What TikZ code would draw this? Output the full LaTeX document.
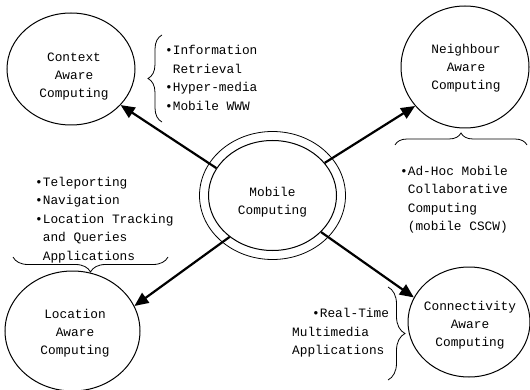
\documentclass[tikz,border=0pt]{standalone}
\usepackage{fontspec}
\setmainfont{Liberation Mono}
\usetikzlibrary{shapes.geometric,arrows.meta,decorations.pathreplacing}
\begin{document}
\begin{tikzpicture}[x=1pt,y=-1pt,
  circ/.style={draw,ellipse,line width=1pt,inner sep=0pt},
  lbl/.style={align=center,font=\fontsize{12.8}{18}\selectfont,inner sep=0pt},
  lst/.style={align=left,font=\fontsize{12.8}{18.5}\selectfont,inner sep=0pt,anchor=west},
  conn/.style={line width=2.2pt,-{Triangle[length=14pt,width=12pt]}},
  br/.style={decorate,decoration={brace,amplitude=#1},line width=0.8pt},
]
\useasboundingbox (0,0) rectangle (530,390);
% circles
\node[circ,minimum width=146pt,minimum height=128pt,line width=0.8pt] (mo) at (272.5,195.5) {};
\node[circ,minimum width=128pt,minimum height=110pt] (m) at (272.5,195.5) {};
\node[circ,minimum width=128pt,minimum height=112pt] (ctx) at (71,69) {};
\node[circ,minimum width=128pt,minimum height=122pt] (nb) at (465,67) {};
\node[circ,minimum width=135pt,minimum height=120pt] (loc) at (72.5,331) {};
\node[circ,minimum width=122pt,minimum height=110pt] (con) at (469,322) {};
% circle labels
\node[lbl] (mt) at (272.5,202.5) {Mobile\\Computing};
\node[lbl] (ctxt) at (74,77) {Context\\Aware\\Computing};
\node[lbl] (nbt) at (466,68) {Neighbour\\Aware\\Computing};
\node[lbl] (loct) at (75,333) {Location\\Aware\\Computing};
\node[lbl] (cont) at (470,325) {Connectivity\\Aware\\Computing};
% lists
\node[lst] (l1) at (165,78) {•Information\\\phantom{•}Retrieval\\•Hyper-media\\•Mobile WWW};
\node[lst] (l2) at (35,220) {•Teleporting\\•Navigation\\•Location Tracking\\\phantom{•}and Queries\\\phantom{•}Applications};
\node[lst] (l3) at (400,199.5) {•Ad-Hoc Mobile\\\phantom{•}Collaborative\\\phantom{•}Computing\\\phantom{•}(mobile CSCW)};
\node[lst] (l4) at (292,333) {\hspace*{20pt}•Real-Time\\Multimedia\\Applications};
% braces
\coordinate (b1a) at (162,122); \coordinate (b1b) at (162,35);
\coordinate (b2a) at (395,145); \coordinate (b2b) at (527,145);
\coordinate (b3a) at (168,257); \coordinate (b3b) at (13,257);
\coordinate (b4a) at (388,287); \coordinate (b4b) at (388,380);
\draw[br=14pt] (b1a) -- (b1b);
\draw[br=12pt] (b2a) -- (b2b);
\draw[br=15pt] (b3a) -- (b3b);
\draw[br=17pt] (b4a) -- (b4b);
% arrows
\draw[conn] (m.154) -- (ctx.-36);
\draw[conn] (m.32) -- (nb.-142);
\draw[conn] (m.224) -- (loc.22);
\draw[conn] (m.-37) -- (con.156);
\end{tikzpicture}
\end{document}
